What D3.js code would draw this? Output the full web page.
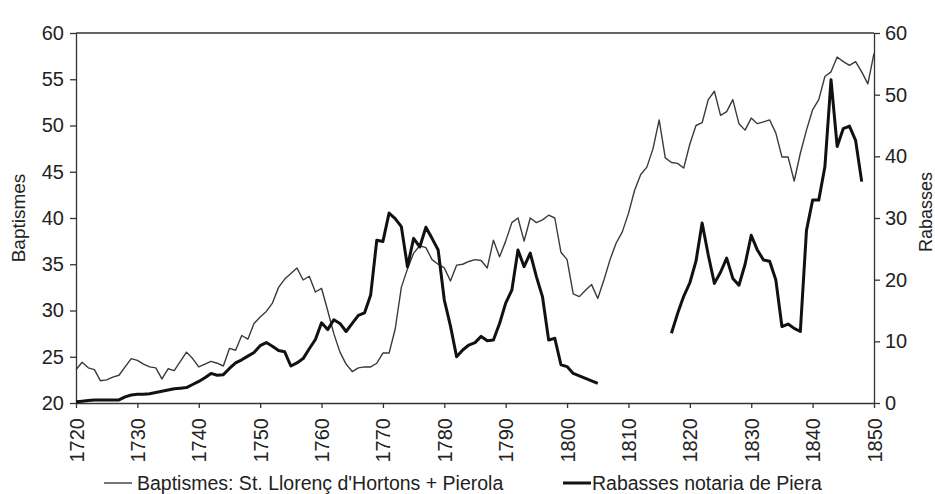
<!DOCTYPE html>
<html>
<head>
<meta charset="utf-8">
<script src="https://cdn.jsdelivr.net/npm/d3@7"></script>
<style>
  body { margin: 0; background: #fff; }
  svg { font-family: "Liberation Sans", Arial, sans-serif; }
</style>
</head>
<body>
<svg id="chart" width="935" height="494"></svg>
<script>
// years shown on the category axis
var first_year = 1720, last_year = 1850;
var tick_years = d3.range(1720, 1851, 10);

// Baptismes: St. Llorenç d'Hortons + Pierola, 1720..1850 (left axis)
var baptismes = [
  23.6, 24.4, 23.8, 23.6, 22.4, 22.5, 22.8, 23.0, 23.9, 24.8,
  24.6, 24.2, 23.9, 23.8, 22.6, 23.7, 23.5, 24.5, 25.5, 24.8,
  23.9, 24.2, 24.5, 24.3, 24.0, 25.9, 25.7, 27.3, 26.9, 28.6,
  29.3, 29.9, 30.8, 32.5, 33.4, 34.0, 34.6, 33.3, 33.7, 32.0,
  32.4, 30.0, 27.5, 25.5, 24.2, 23.4, 23.8, 23.9, 23.9, 24.3,
  25.4, 25.4, 28.0, 32.5, 34.5, 36.2, 37.0, 36.8, 35.5, 35.0,
  34.6, 33.2, 34.9, 35.0, 35.3, 35.5, 35.4, 34.6, 37.6, 35.8,
  37.5, 39.5, 40.0, 37.5, 40.0, 39.5, 39.8, 40.3, 40.0, 36.3,
  35.5, 31.8, 31.5, 32.2, 32.8, 31.3, 33.3, 35.5, 37.3, 38.5,
  40.5, 43.0, 44.7, 45.5, 47.5, 50.6, 46.5, 46.0, 45.9, 45.4,
  48.0, 50.0, 50.3, 52.8, 53.7, 51.1, 51.5, 52.8, 50.2, 49.5,
  50.8, 50.2, 50.4, 50.6, 49.2, 46.6, 46.6, 44.0, 47.0, 49.5,
  51.7, 52.8, 55.3, 55.8, 57.4, 56.9, 56.5, 56.9, 55.8, 54.5,
  57.8
];

// Rabasses notaria de Piera (right axis): 1720..1805, then 1817..1848
var rabasses_early = [
  0.2, 0.3, 0.4, 0.5, 0.5, 0.5, 0.5, 0.5, 1.0, 1.3,
  1.4, 1.4, 1.5, 1.7, 1.9, 2.1, 2.3, 2.4, 2.5, 3.0,
  3.5, 4.1, 4.8, 4.5, 4.6, 5.6, 6.5, 7.0, 7.6, 8.2,
  9.3, 9.8, 9.2, 8.5, 8.3, 6.0, 6.5, 7.2, 8.8, 10.3,
  13.0, 11.9, 13.5, 12.9, 11.6, 12.9, 14.2, 14.6, 17.5, 26.4,
  26.2, 30.8, 29.9, 28.6, 22.1, 26.7, 25.3, 28.5, 26.7, 24.8,
  16.7, 12.5, 7.5, 8.6, 9.4, 9.8, 10.8, 10.1, 10.2, 12.9,
  16.2, 18.3, 24.8, 22.1, 24.3, 20.5, 17.2, 10.2, 10.5, 6.2,
  5.9, 4.8, 4.4, 4.0, 3.6, 3.2
];
var rabasses_late_start = 1817;
var rabasses_late = [
  11.3, 14.5, 17.3, 19.5, 23.0, 29.2, 24.0, 19.4, 21.2, 23.5,
  20.2, 19.1, 22.5, 27.2, 24.8, 23.2, 23.0, 20.0, 12.4, 12.8,
  12.1, 11.6, 28.0, 32.9, 32.9, 38.3, 52.4, 41.6, 44.5, 44.9,
  42.6, 35.9
];

var left_ticks = d3.range(20, 61, 5);
var right_ticks = d3.range(0, 61, 10);

var legend_items = [
  {label: "Baptismes: St. Llorenç d'Hortons + Pierola", series: "bapt"},
  {label: "Rabasses notaria de Piera", series: "rab"}
];

var svg = d3.select("#chart");
var margin = {left: 76, right: 61, top: 33, bottom: 91};
var width = 935, height = 494;

var x = d3.scaleLinear().domain([first_year, last_year]).range([margin.left, width - margin.right]);
var y_left = d3.scaleLinear().domain([20, 60]).range([height - margin.bottom, margin.top]);
var y_right = d3.scaleLinear().domain([0, 60]).range([height - margin.bottom, margin.top]);

var line_style = {
  bapt: {stroke: "#3a3a3a", width: 1.4},
  rab: {stroke: "#111", width: 3}
};

// build year/value rows
var bapt_rows = baptismes.map(function (v, i) { return {year: first_year + i, value: v}; });
var rab_rows = [];
for (var yr = first_year; yr <= 1848; yr++) {
  var v = null;
  if (yr - first_year < rabasses_early.length) v = rabasses_early[yr - first_year];
  else if (yr >= rabasses_late_start) v = rabasses_late[yr - rabasses_late_start];
  rab_rows.push({year: yr, value: v});
}

var axis_color = "#333";

// top border of plot area
svg.append("line")
    .attr("x1", x(first_year)).attr("x2", x(last_year))
    .attr("y1", margin.top).attr("y2", margin.top)
    .attr("stroke", axis_color).attr("stroke-width", 1.3);

var left_axis = svg.append("g")
    .attr("transform", "translate(" + margin.left + ",0)")
    .call(d3.axisLeft(y_left).tickValues(left_ticks).tickSize(6).tickSizeOuter(0).tickPadding(6));

var right_axis = svg.append("g")
    .attr("transform", "translate(" + (width - margin.right) + ",0)")
    .call(d3.axisRight(y_right).tickValues(right_ticks).tickSize(6).tickSizeOuter(0).tickPadding(5));

var bottom_axis = svg.append("g")
    .attr("transform", "translate(0," + (height - margin.bottom) + ")")
    .call(d3.axisBottom(x).tickValues(tick_years).tickFormat(d3.format("d")).tickSize(5).tickSizeOuter(0));

bottom_axis.selectAll("text")
    .attr("transform", "rotate(-90)")
    .attr("text-anchor", "end")
    .attr("x", -15)
    .attr("y", 0)
    .attr("dy", "0.35em");

[left_axis, right_axis, bottom_axis].forEach(function (g) {
  g.selectAll("path, line").attr("stroke", axis_color).attr("stroke-width", 1.3);
  g.selectAll("text").attr("fill", "#222").style("font-size", "20px").style("font-family", "'Liberation Sans', Arial, sans-serif");
});

// axis titles
svg.append("text")
    .attr("transform", "translate(25,218) rotate(-90)")
    .attr("text-anchor", "middle")
    .style("font-size", "19px").attr("fill", "#222")
    .text("Baptismes");

svg.append("text")
    .attr("transform", "translate(932,212) rotate(-90)")
    .attr("text-anchor", "middle")
    .style("font-size", "18px").attr("fill", "#222")
    .text("Rabasses");

// lines
var bapt_line = d3.line()
    .x(function (d) { return x(d.year); })
    .y(function (d) { return y_left(d.value); });

var rab_line = d3.line()
    .defined(function (d) { return d.value !== null; })
    .x(function (d) { return x(d.year); })
    .y(function (d) { return y_right(d.value); });

svg.append("path")
    .datum(bapt_rows)
    .attr("fill", "none")
    .attr("stroke", line_style.bapt.stroke)
    .attr("stroke-width", line_style.bapt.width)
    .attr("stroke-linejoin", "round")
    .attr("d", bapt_line);

svg.append("path")
    .datum(rab_rows)
    .attr("fill", "none")
    .attr("stroke", line_style.rab.stroke)
    .attr("stroke-width", line_style.rab.width)
    .attr("stroke-linejoin", "round")
    .attr("d", rab_line);

// legend
var legend_x = [104, 563];
var legend = svg.append("g").attr("class", "legend")
    .selectAll("g")
    .data(legend_items)
    .enter()
    .append("g")
    .attr("transform", function (d, i) { return "translate(" + legend_x[i] + ",483)"; });

legend.append("line")
    .attr("x1", 0).attr("x2", 28)
    .attr("stroke", function (d) { return line_style[d.series].stroke; })
    .attr("stroke-width", function (d) { return line_style[d.series].width; });

legend.append("text")
    .attr("x", function (d) { return d.series === "bapt" ? 33 : 29; })
    .attr("dy", "0.35em")
    .style("font-size", "19.5px").attr("fill", "#222")
    .text(function (d) { return d.label; });
</script>
</body>
</html>
